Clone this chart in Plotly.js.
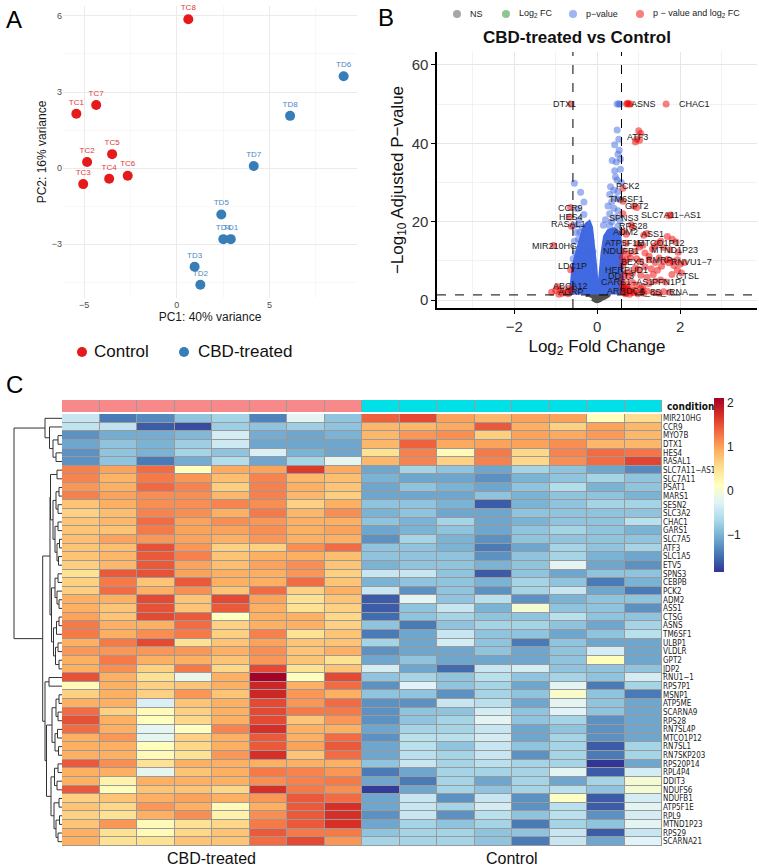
<!DOCTYPE html>
<html><head><meta charset="utf-8">
<script src="https://cdn.plot.ly/plotly-3.0.1.min.js"></script>
<style>html,body{margin:0;padding:0;background:#fff}#chart{width:759px;height:867px}</style>
</head><body><div id="chart"></div>
<script>
// ================= DATA =================
// Panel A: PCA
const pcaControlNames = ['TC1','TC2','TC3','TC4','TC5','TC6','TC7','TC8'];
const pcaControlPC1   = [-5.42,-4.84,-5.05,-3.65,-3.49,-2.65,-4.35,0.62];
const pcaControlPC2   = [2.14,0.24,-0.63,-0.42,0.55,-0.30,2.49,5.87];
const pcaCBDNames     = ['TD1','TD2','TD3','TD4','TD5','TD6','TD7','TD8'];
const pcaCBDPC1       = [2.91,1.27,0.96,2.51,2.40,9.00,4.15,6.11];
const pcaCBDPC2       = [-2.80,-4.60,-3.89,-2.80,-1.83,3.62,0.08,2.06];

// Panel B: volcano
const fcCutoff = 0.585;   // log2(1.5)
const pCutoff  = 1.3;     // -log10(0.05)
const sigBothLFC = [-0.64,0.71,0.76,0.80,0.73,1.66,1.0,1.05,0.95,0.92,1.02,0.62,0.62,0.88,0.95,1.77,1.72,0.62,0.85,0.82,0.62,0.70,1.20,1.12,1.69,1.81,1.90,0.96,1.02,1.10,1.53,1.45,1.38,1.60,1.33,1.75,1.95,0.70,0.65,0.75,0.90,1.15,1.25,0.70,0.80,0.95,1.05,1.25,1.49,1.40,1.60,1.70,1.82,1.93,1.73,2.00,1.85,2.10,0.92,1.00,1.15,1.30,1.45,1.55,1.93,2.03,1.80,0.65,0.75,0.85,1.05,1.20,1.35,1.53,1.65,1.40,1.25,0.85,0.70,0.95,1.10,0.65,0.80,0.90,1.05,1.20,1.60,1.49,1.75,1.35,0.70,0.62,0.75,0.60,0.62,0.66,0.72,0.60,0.60,0.68,0.78,0.88,0.98,1.12,0.66,0.72,0.83,1.08,-0.64,-0.65,-0.62,-1.05,-0.64,-0.96,-1.00,-0.88,-0.76,-0.68,-0.84,-1.10,-0.70,-0.62,-0.92];
const sigBothP   = [50,50,50,50,50.2,50,43.2,42.5,41.0,40.3,40.8,28.5,25.2,24.0,23.6,21.7,21.5,22.0,18.5,19.2,17.5,16.8,17.0,16.5,16.2,15.5,14.8,14.3,13.5,14.0,15.0,14.5,13.8,13.4,13.0,12.8,12.2,14.5,12.5,11.8,12.4,12.0,11.2,10.3,10.8,10.5,9.9,10.3,10.7,9.6,9.8,10.4,9.9,10.3,9.5,9.2,8.8,9.6,8.2,7.8,8.5,8.0,7.6,8.6,7.6,6.9,6.5,6.6,6.0,6.8,6.3,5.8,6.5,5.1,4.6,4.8,4.2,4.5,4.0,3.8,3.5,3.2,2.8,2.4,2.9,2.3,2.1,1.7,2.0,1.9,1.8,2.2,2.5,5.2,8.9,9.7,7.1,3.6,11.0,1.6,1.5,1.9,1.6,1.7,2.6,3.1,2.0,2.2,23.6,21.2,18.8,13.9,7.7,3.4,2.4,2.7,2.1,3.0,1.7,2.0,1.6,2.6,1.5];
const sigPLFC = [0.48,0.52,0.55,0.48,0.52,0.42,0.53,0.50,0.36,0.46,0.42,0.56,0.44,0.48,0.32,0.30,0.40,0.50,0.45,0.35,0.55,0.26,0.40,0.50,0.30,0.45,0.20,0.35,0.55,0.15,0.30,0.50,0.58,0.56,-0.55,-0.40,-0.32,-0.48,-0.32,-0.44,-0.24,-0.20,-0.28,-0.56,-0.50,-0.45,-0.38,-0.30,-0.52,-0.42,-0.35,-0.25,-0.55,-0.58,-0.50,-0.46,-0.36,-0.42,-0.15,-0.10,-0.55,-0.58];
const sigPP   = [50,50,50,43.4,41.0,39.6,38.2,37.2,35.6,35.2,33.0,33.4,31.4,30.6,28.9,26.9,28.0,27.6,26.0,25.1,25.6,24.0,23.4,22.8,22.0,21.1,20.5,20.0,20.2,19.1,19.0,18.8,30.0,36.0,29.8,27.5,25.0,23.3,21.8,20.5,18.4,16.8,16.0,19.0,17.2,15.6,14.2,12.5,12.0,10.2,9.5,10.8,15.0,10.5,8.2,19.2,18.5,17.3,15.2,12.3,6.0,4.0];
// outline of the dense cloud of significant, small-fold-change genes
const denseCloudLFC = [-0.62,-0.60,-0.56,-0.50,-0.44,-0.38,-0.32,-0.25,-0.20,-0.16,-0.12,-0.09,-0.06,-0.03,0.00,0.03,0.08,0.14,0.20,0.28,0.40,0.52,0.56,0.58,0.60];
const denseCloudP   = [1.4,5.0,8.5,11.0,13.6,16.0,17.9,19.2,19.6,18.5,15.3,11.5,8.5,4.5,2.0,3.5,5.1,12.0,16.2,17.5,17.9,17.0,12.0,5.1,1.4];
// outline of the non-significant genes
const nsCloudLFC = [-0.28,0.28,0.12,0.00,-0.12];
const nsCloudP   = [1.3,1.3,0.3,-0.3,0.3];
const volcGenes  = ['DTX1','ASNS','CHAC1','ATF3','PCK2','TM6SF1','GPT2','SLC7A11\u2212AS1','CCR9','HES4','RASAL1','SPNS3','RPS28','ADM2','ASS1','ATP5F1E','MTCO1P12','MIR210HG','NDUFB1','MTND1P23','BEX5','RMRP','RNVU1\u22127','LDC1P','HERPUD1','CTSL','DDIT3','PFN1P1','CARS1\u2212AS1','ABCA12','AGRP','ARRDC4','5_8S_rRNA'];
const volcLabelLFC = [-0.79,1.11,2.34,0.96,0.74,0.70,0.97,1.77,-0.64,-0.62,-0.70,0.64,0.87,0.67,1.33,0.64,1.53,-1.04,0.57,1.86,0.84,1.49,2.28,-0.60,0.71,2.17,0.58,1.74,0.71,-0.64,-0.63,0.68,1.62];
const volcLabelP   = [50,50,50,41.6,29.1,25.9,24.0,21.7,23.6,21.3,19.4,20.9,19.0,17.3,16.8,14.5,14.5,13.9,12.5,12.8,9.8,10.1,9.8,8.7,7.7,6.1,6.0,4.7,4.7,3.7,2.0,2.3,2.1];

// Panel C: heatmap
const heatGenes = ['MIR210HG','CCR9','MYO7B','DTX1','HES4','RASAL1','SLC7A11\u2212AS1','SLC7A11','PSAT1','MARS1','SESN2','SLC3A2','CHAC1','GARS1','SLC7A5','ATF3','SLC1A5','ETV5','SPNS3','CEBPB','PCK2','ADM2','ASS1','CTSG','ASNS','TM6SF1','ULBP1','VLDLR','GPT2','JDP2','RNU1\u22121','RPS7P1','MSNP1','ATP5ME','SCARNA9','RPS28','RN7SL4P','MTCO1P12','RN7SL1','RN7SKP203','RPS20P14','RPL4P4','DDIT3','NDUFS6','NDUFB1','ATP5F1E','RPL9','MTND1P23','RPS29','SCARNA21'];
const heatGroups = ['CBD-treated','CBD-treated','CBD-treated','CBD-treated','CBD-treated','CBD-treated','CBD-treated','CBD-treated','Control','Control','Control','Control','Control','Control','Control','Control'];
const heatCBD = [
[-0.45,-1.4,-1.3,-0.85,-0.7,-1.35,-0.22,-0.85],
[-0.5,-0.5,-1.6,-1.7,-0.75,-0.85,-0.75,-0.85],
[-1.25,-1.05,-1.05,-0.95,-0.35,-1.05,-1.1,-1.0],
[-1.1,-0.85,-1.0,-0.75,-0.4,-1.1,-1.1,-1.1],
[-1.25,-0.85,-1.0,-0.7,-0.85,-0.3,-1.0,-1.1],
[-1.25,-0.85,-1.4,-1.05,-0.6,-1.1,-0.7,-0.2],
[1.2,1.0,1.33,0.13,0.95,1.0,1.65,0.95],
[1.18,0.88,1.25,1.07,0.8,1.18,0.85,0.8],
[1.07,0.92,1.35,1.18,0.67,1.2,0.92,0.75],
[1.2,1.0,1.12,1.12,0.85,1.2,0.85,0.67],
[0.75,0.92,1.12,1.12,1.18,1.12,0.65,0.92],
[0.65,0.8,1.18,1.12,0.92,1.25,0.85,1.12],
[0.75,0.85,1.33,1.0,1.12,1.07,0.92,0.92],
[0.75,0.75,1.25,1.0,1.0,1.12,0.92,1.0],
[0.8,1.0,1.07,1.0,0.92,1.07,0.92,0.92],
[0.75,0.8,1.5,1.07,0.65,0.65,1.12,1.33],
[0.75,0.85,1.45,1.2,0.75,0.92,0.92,0.8],
[0.67,0.85,1.45,1.0,0.8,1.0,1.12,0.75],
[0.5,1.45,1.5,1.0,0.92,0.92,1.07,0.65],
[0.65,1.25,0.75,1.45,0.92,0.92,1.33,0.75],
[0.67,1.33,0.92,1.12,0.75,1.33,0.65,0.92],
[0.92,0.92,1.55,0.75,1.55,1.0,0.5,0.75],
[0.92,0.75,1.5,0.75,1.45,0.92,0.5,0.65],
[1.0,0.75,1.55,1.45,0.13,0.92,0.92,0.6],
[1.25,0.92,0.92,1.33,0.65,0.92,0.92,0.65],
[1.25,0.92,1.12,1.25,0.65,1.2,0.5,0.75],
[0.92,1.25,1.55,0.5,0.75,1.0,0.75,0.75],
[1.07,1.07,1.07,1.07,0.92,1.12,0.75,0.92],
[0.92,1.25,0.92,0.92,0.75,1.07,0.75,0.5],
[0.92,1.12,0.65,1.25,0.6,1.55,0.5,0.75],
[1.5,0.92,0.5,-0.15,0.92,2.1,0.15,1.55],
[0.2,0.92,0.65,0.75,0.92,1.8,0.92,1.33],
[0.65,0.92,0.65,1.07,0.75,1.8,1.07,0.92],
[0.92,0.92,-0.3,0.75,0.92,1.55,1.07,1.33],
[1.33,0.65,0.2,0.65,0.92,1.55,1.25,1.25],
[1.5,0.92,0.15,0.6,0.92,1.55,0.75,1.07],
[1.33,0.92,-0.2,0.13,1.18,1.72,0.92,0.92],
[0.92,1.07,-0.2,0.65,0.92,1.45,0.92,1.33],
[0.92,0.92,0.15,0.6,0.92,1.45,1.0,1.45],
[0.92,0.92,0.2,0.5,1.07,1.72,0.75,1.33],
[1.45,1.12,0.5,0.92,0.92,0.92,0.92,0.92],
[0.92,0.92,-0.2,0.75,0.92,1.25,1.18,1.07],
[0.92,0.3,0.92,0.92,0.92,1.12,1.2,1.25],
[1.45,0.15,0.75,0.75,0.6,1.72,1.25,1.12],
[0.65,0.75,0.92,1.0,0.92,1.07,1.45,1.33],
[0.75,0.6,1.07,0.92,0.2,0.92,1.45,1.72],
[0.65,0.5,0.92,1.12,0.3,1.12,1.45,1.72],
[0.75,1.07,0.2,0.5,0.6,1.25,1.45,1.72],
[0.92,0.5,0.2,0.6,0.75,1.45,1.25,1.25],
[0.92,0.5,0.5,0.75,0.75,1.33,1.55,1.07]];
const heatControl = [
[1.4,1.55,1.0,0.85,1.0,1.0,0.15,0.55],
[0.85,0.85,0.95,1.45,0.92,0.65,1.0,0.85],
[0.85,1.07,1.12,0.67,1.0,0.95,1.05,0.85],
[0.85,1.4,0.95,1.0,1.0,1.12,0.85,0.85],
[0.5,1.2,0.2,1.25,0.6,1.18,1.33,1.27],
[0.85,1.18,0.65,1.2,0.6,1.12,1.33,1.58],
[-1.1,-0.7,-0.85,-1.1,-0.7,-0.85,-1.1,-1.3],
[-1.0,-1.1,-1.1,-1.25,-1.0,-0.85,-0.7,-0.85],
[-1.1,-0.85,-1.0,-1.1,-0.85,-0.6,-1.0,-0.85],
[-1.1,-1.1,-1.1,-0.85,-1.0,-0.85,-0.85,-1.0],
[-0.85,-0.85,-1.0,-1.6,-1.0,-0.85,-0.7,-0.7],
[-1.0,-0.85,-1.1,-1.1,-0.85,-0.85,-0.85,-0.85],
[-0.85,-1.0,-0.7,-1.1,-1.0,-0.85,-0.85,-0.55],
[-1.1,-1.0,-0.85,-1.1,-0.85,-0.7,-0.85,-1.0],
[-1.25,-0.7,-1.0,-1.25,-0.85,-0.85,-0.85,-0.85],
[-0.85,-0.85,-1.0,-1.4,-1.1,-0.7,-0.85,-0.7],
[-0.85,-0.85,-0.85,-1.25,-0.85,-0.7,-1.0,-1.1],
[-1.0,-0.85,-0.85,-1.0,-0.85,-0.22,-1.1,-1.25],
[-0.45,-0.45,-0.85,-1.6,-0.85,-1.1,-0.85,-0.85],
[-1.0,-0.85,-0.85,-1.0,-0.7,-0.85,-1.4,-1.0],
[-0.45,-1.25,-0.85,-1.25,-0.7,-0.45,-1.1,-1.4],
[-1.6,-0.22,-0.85,-0.55,-1.25,-1.0,-0.85,-0.85],
[-1.6,-0.85,-0.45,-1.0,0.0,-0.85,-0.85,-1.25],
[-1.5,-0.85,-0.7,-0.85,-0.85,-0.55,-0.85,-0.85],
[-0.85,-1.4,-0.85,-0.7,-0.7,-0.85,-1.1,-0.7],
[-1.4,-1.1,-0.45,-0.85,-0.85,-1.1,-0.85,-0.55],
[-0.7,-1.1,-0.35,-0.85,-1.4,-0.85,-1.1,-1.1],
[-1.25,-1.1,-1.1,-0.85,-1.1,-0.85,-0.35,-1.1],
[-1.1,-0.85,-1.1,-1.1,-1.1,-0.85,0.15,-1.1],
[-0.35,-1.1,-1.5,-0.45,-0.35,-0.85,-0.85,-0.85],
[-0.85,-0.7,-0.85,-0.55,-0.85,-0.7,-0.85,-0.35],
[-1.25,-0.26,-0.85,-0.7,-1.1,-0.22,-1.4,-0.7],
[-0.85,-0.85,-1.25,-0.7,-0.85,0.05,-0.85,-1.4],
[-1.25,-1.25,-0.45,-0.55,-1.1,-0.22,-0.85,-1.1],
[-1.25,-0.85,-0.85,-0.35,-0.85,-0.26,-0.85,-1.1],
[-1.25,-0.85,-0.7,-0.22,-0.85,-0.7,-1.25,-1.1],
[-1.1,-0.7,-0.7,-0.45,-1.1,-0.85,-1.25,-1.1],
[-1.25,-0.55,-0.55,-0.35,-1.1,-0.7,-1.25,-1.1],
[-1.1,-0.55,-0.85,-0.45,-0.85,-0.7,-1.6,-0.7],
[-1.1,-0.55,-0.7,-0.45,-1.25,-0.7,-1.4,-0.7],
[-0.85,-0.45,-0.7,-0.55,-0.7,-0.7,-1.84,-1.1],
[-1.4,-1.1,-0.7,-0.7,-0.7,-0.22,-1.6,-0.35],
[-1.1,-1.4,-0.7,-1.1,-0.7,-1.1,-0.7,0.0],
[-1.8,-1.1,-0.7,-0.85,-0.7,-0.55,-0.85,0.0],
[-1.1,-0.45,-1.25,-0.45,-1.25,0.1,-1.6,-0.35],
[-1.1,-0.45,-0.7,-0.35,-1.25,-0.55,-1.6,-0.22],
[-1.25,-0.45,-1.25,-0.55,-0.85,-0.55,-1.25,-0.35],
[-1.1,-0.7,-0.85,-0.7,-1.4,-0.7,-0.85,-0.22],
[-0.85,-0.7,-0.7,-0.85,-0.85,-0.45,-1.6,-0.45],
[-0.7,-0.7,-0.7,-0.85,-1.4,-0.45,-1.1,-0.26]];
const heatMin = -1.84, heatMax = 2.11;
const colorbarTicks = [-1,0,1,2];
// row dendrogram: [mergeHeight, left, right]; leaves are row numbers (1-based)
const rowTree = [48,
  [17, 1, [12.5, 2, [9, [4, 3, 4], [6, 5, 6]]]],
  [19.3,
    [12,
      [11.5, [5, 7, 8], [9, [6, [3, 9, 10], [4, 11, 12]], [7, [4, 13, 14], [5, [2.5, 15, 16], [3.5, 17, 18]]]]],
      [10.5, [7, [4, 19, 20], [5, 21, [3, 22, 23]]], [8.5, [5.5, [3, 24, 25], 26], [6.5, [4, 27, 28], [3, 29, 30]]]]],
    [17, [13, 31, 32],
      [15.5,
        [10, [6, [3, 33, 34], [4, 35, 36]], [7, [4.5, 37, 38], [3.5, 39, 40]]],
        [11, [7.5, [4, 41, 42], [5, 43, 44]], [8, [3, 45, 46], [6, [2.5, 47, 48], [4, 49, 50]]]]]]]];

// ================= BUILD =================
const W = 759, H = 867;
const px = v => v / W;
const py = v => 1 - v / H;
const FONT = 'Liberation Sans, Arial, Helvetica, sans-serif';
const NARROW = 'Liberation Sans Narrow, Arial Narrow, DejaVu Sans Condensed, Liberation Sans, sans-serif';
const RED = '#E41A1C', BLUE = '#377EB8';

const traces = [];
// PCA
traces.push({type:'scatter', mode:'markers+text', x:pcaControlPC1, y:pcaControlPC2, text:pcaControlNames,
  textposition:'top center', textfont:{size:8, color:'#e0393b', family:FONT},
  marker:{size:10, color:RED}, xaxis:'x', yaxis:'y', showlegend:false, cliponaxis:false});
traces.push({type:'scatter', mode:'markers+text', x:pcaCBDPC1, y:pcaCBDPC2, text:pcaCBDNames,
  textposition:'top center', textfont:{size:8, color:'#4a88c2', family:FONT},
  marker:{size:10, color:BLUE}, xaxis:'x', yaxis:'y', showlegend:false, cliponaxis:false});

// Volcano
traces.push({type:'scatter', mode:'lines', x:nsCloudLFC, y:nsCloudP, fill:'toself', fillcolor:'#505050',
  line:{color:'#505050', width:4, shape:'spline'}, xaxis:'x2', yaxis:'y2', showlegend:false});
traces.push({type:'scatter', mode:'lines', x:denseCloudLFC, y:denseCloudP, fill:'toself', fillcolor:'#4169E1',
  line:{color:'#4169E1', width:5}, xaxis:'x2', yaxis:'y2', showlegend:false});
traces.push({type:'scatter', mode:'markers', x:sigPLFC, y:sigPP,
  marker:{size:7, color:'#4169E1', opacity:0.5}, xaxis:'x2', yaxis:'y2', showlegend:false});
traces.push({type:'scatter', mode:'markers', x:sigBothLFC, y:sigBothP,
  marker:{size:7, color:'#EE0000', opacity:0.5}, xaxis:'x2', yaxis:'y2', showlegend:false});

// Heatmap
const heatZ = heatCBD.map((r, i) => r.concat(heatControl[i]));
const rdylbu = ['#313695','#4575B4','#74ADD1','#ABD9E9','#E0F3F8','#FFFFBF','#FEE090','#FDAE61','#F46D43','#D73027','#A50026'];
const cscale = rdylbu.map((c, i) => [i / (rdylbu.length - 1), c]);
const colIdx = heatGroups.map((_, i) => i);
const rowIdx = heatGenes.map((_, i) => i);
traces.push({type:'heatmap', z:heatZ, x:colIdx, y:rowIdx, colorscale:cscale, zmin:heatMin, zmax:heatMax,
  xgap:1, ygap:1, xaxis:'x3', yaxis:'y3', hoverinfo:'skip',
  colorbar:{x:px(714), xanchor:'left', xref:'paper', y:py(398), yanchor:'top', yref:'paper',
    len:174/H, lenmode:'fraction', thickness:10, thicknessmode:'pixels', outlinewidth:0,
    tickvals:colorbarTicks, ticktext:colorbarTicks.map(v => v < 0 ? '\u2212' + Math.abs(v) : String(v)),
    ticks:'', tickfont:{size:12, color:'#222', family:FONT}, ypad:0, xpad:0}});
const groupLevels = ['CBD-treated','Control'];
traces.push({type:'heatmap', z:[heatGroups.map(g => groupLevels.indexOf(g))], x:colIdx, y:[0],
  colorscale:[[0,'#F8898B'],[0.5,'#F8898B'],[0.5,'#00E0E6'],[1,'#00E0E6']], zmin:0, zmax:1,
  showscale:false, xgap:1, ygap:0, xaxis:'x4', yaxis:'y4', hoverinfo:'skip'});

// Dendrogram
const dx = [], dy = [];
function walk(node) {
  if (typeof node === 'number') return {h:0, y:node - 1};
  const [h, a, b] = node;
  const A = walk(a), B = walk(b);
  dx.push(A.h, h, h, B.h, null);
  dy.push(A.y, A.y, B.y, B.y, null);
  return {h, y:(A.y + B.y) / 2};
}
walk(rowTree);
traces.push({type:'scatter', mode:'lines', x:dx, y:dy, line:{color:'#333', width:1}, xaxis:'x5', yaxis:'y5',
  showlegend:false, hoverinfo:'skip', cliponaxis:false});

// ================= LAYOUT =================
const hide = {showgrid:false, zeroline:false, showticklabels:false, ticks:'', showline:false};
const heatY = [py(846), py(414)];
const heatX = [px(62), px(662)];
const layout = {
  width:W, height:H, margin:{l:0, r:0, t:0, b:0}, paper_bgcolor:'#fff', plot_bgcolor:'#fff',
  font:{family:FONT, color:'#222'}, showlegend:false, hovermode:false,
  xaxis:{domain:[px(63), px(357)], range:[-6.14, 9.72], anchor:'y', tickvals:[-5,0,5],
    showgrid:true, gridcolor:'#ebebeb', gridwidth:1, zeroline:false, showline:false, ticks:'',
    minor:{dtick:2.5, tick0:0, showgrid:true, gridcolor:'#f4f4f4', gridwidth:0.6},
    tickfont:{size:9, color:'#4d4d4d'}, title:{text:'PC1: 40% variance', font:{size:12, color:'#1a1a1a'}, standoff:3}},
  yaxis:{domain:[py(298), py(6)], range:[-5.12, 6.39], anchor:'x', tickvals:[-3,0,3,6],
    showgrid:true, gridcolor:'#ebebeb', gridwidth:1, zeroline:false, showline:false, ticks:'',
    minor:{dtick:1.5, tick0:0, showgrid:true, gridcolor:'#f4f4f4', gridwidth:0.6},
    tickfont:{size:9, color:'#4d4d4d'}, title:{text:'PC2: 16% variance', font:{size:12, color:'#1a1a1a'}, standoff:2}},
  xaxis2:{domain:[px(437), px(757)], range:[-3.86, 3.85], anchor:'y2', tickvals:[-2,0,2],
    showgrid:true, gridcolor:'#e6e6e6', gridwidth:1, zeroline:false,
    minor:{dtick:1, tick0:0, showgrid:true, gridcolor:'#efefef', gridwidth:0.8},
    showline:true, linecolor:'#000', linewidth:1.6, ticks:'outside', ticklen:4, tickcolor:'#000',
    tickfont:{size:15, color:'#333'}, title:{text:'Log<sub>2</sub> Fold Change', font:{size:17, color:'#111'}, standoff:6}},
  yaxis2:{domain:[py(308), py(52)], range:[-2.04, 63.3], anchor:'x2', tickvals:[0,20,40,60],
    showgrid:true, gridcolor:'#e6e6e6', gridwidth:1, zeroline:false,
    minor:{dtick:10, tick0:0, showgrid:true, gridcolor:'#efefef', gridwidth:0.8},
    showline:true, linecolor:'#000', linewidth:1.6, ticks:'outside', ticklen:4, tickcolor:'#000',
    tickfont:{size:15, color:'#333'}, title:{text:'\u2212Log<sub>10</sub> Adjusted P\u2212value', font:{size:17, color:'#111'}, standoff:4}},
  xaxis3:Object.assign({domain:heatX, range:[-0.5, 15.5], anchor:'y3'}, hide),
  yaxis3:{domain:heatY, range:[49.5, -0.5], anchor:'x3', side:'right', showgrid:false, zeroline:false, ticks:'',
    tickvals:rowIdx, ticktext:heatGenes, tickfont:{size:8, color:'#222', family:NARROW}, showline:false},
  xaxis4:Object.assign({domain:heatX, range:[-0.5, 15.5], anchor:'y4'}, hide),
  yaxis4:Object.assign({domain:[py(412), py(400)], range:[-0.5, 0.5], anchor:'x4'}, hide),
  xaxis5:Object.assign({domain:[px(12), px(62)], range:[50, 0], anchor:'y5'}, hide),
  yaxis5:Object.assign({domain:heatY, range:[49.5, -0.5], anchor:'x5'}, hide),
  shapes:[
    {type:'rect', xref:'x3', yref:'y3', x0:-0.5, x1:15.5, y0:-0.5, y1:49.5, fillcolor:'#9a9a9a', line:{color:'#9a9a9a', width:1}, layer:'below'},
    {type:'rect', xref:'x4', yref:'y4', x0:-0.5, x1:15.5, y0:-0.5, y1:0.5, fillcolor:'#9a9a9a', line:{color:'#9a9a9a', width:1}, layer:'below'},
    {type:'line', xref:'x2 domain', yref:'y2', x0:0, x1:1, y0:pCutoff, y1:pCutoff, line:{color:'#000', width:1, dash:'dash'}},
    {type:'line', xref:'x2', yref:'y2 domain', x0:-fcCutoff, x1:-fcCutoff, y0:0, y1:1, line:{color:'#000', width:1, dash:'dash'}},
    {type:'line', xref:'x2', yref:'y2 domain', x0:fcCutoff, x1:fcCutoff, y0:0, y1:1, line:{color:'#000', width:1, dash:'dash'}}
  ],
  annotations:[]
};
const ann = layout.annotations;
// panel letters
ann.push({text:'A', x:px(4), y:py(20), xref:'paper', yref:'paper', xanchor:'left', yanchor:'middle', showarrow:false, font:{size:24, color:'#000'}});
ann.push({text:'B', x:px(376), y:py(18), xref:'paper', yref:'paper', xanchor:'left', yanchor:'middle', showarrow:false, font:{size:24, color:'#000'}});
ann.push({text:'C', x:px(4), y:py(384), xref:'paper', yref:'paper', xanchor:'left', yanchor:'middle', showarrow:false, font:{size:24, color:'#000'}});
// PCA legend
function dot(cx, cy, r, color, opacity) {
  layout.shapes.push({type:'circle', xref:'paper', yref:'paper', x0:px(cx - r), x1:px(cx + r), y0:py(cy + r), y1:py(cy - r),
    fillcolor:color, line:{width:0}, opacity:opacity});
}
dot(82, 352, 5, RED, 1); dot(184, 352, 5, BLUE, 1);
ann.push({text:'Control', x:px(92), y:py(352), xref:'paper', yref:'paper', xanchor:'left', yanchor:'middle', showarrow:false, font:{size:17, color:'#111'}});
ann.push({text:'CBD-treated', x:px(196), y:py(352), xref:'paper', yref:'paper', xanchor:'left', yanchor:'middle', showarrow:false, font:{size:17, color:'#111'}});
// Volcano legend + title
const vleg = [['NS','#4D4D4D',457],['Log<sub>2</sub> FC','#228B22',506],['p\u2212value','#4169E1',573],['p \u2212 value and log<sub>2</sub> FC','#EE0000',640]];
vleg.forEach(([t, c, x]) => {
  dot(x, 14, 4, c, 0.5);
  ann.push({text:t, x:px(x + 11), y:py(14), xref:'paper', yref:'paper', xanchor:'left', yanchor:'middle', showarrow:false, font:{size:9, color:'#222'}});
});
ann.push({text:'<b>CBD-treated vs Control</b>', x:px(577), y:py(37), xref:'paper', yref:'paper', xanchor:'center', yanchor:'middle', showarrow:false, font:{size:17, color:'#111'}});
// Volcano gene labels
volcGenes.forEach((g, i) => ann.push({text:g, x:volcLabelLFC[i], y:volcLabelP[i], xref:'x2', yref:'y2',
  showarrow:false, xanchor:'center', yanchor:'middle', font:{size:9, color:'#1a1a1a'}}));
// Heatmap texts
ann.push({text:'<b>condition</b>', x:px(665), y:py(406), xref:'paper', yref:'paper', xanchor:'left', yanchor:'middle', showarrow:false, font:{size:10, color:'#111', family:NARROW}});
ann.push({text:'CBD-treated', x:px(212), y:py(858), xref:'paper', yref:'paper', xanchor:'center', yanchor:'middle', showarrow:false, font:{size:16, color:'#111'}});
ann.push({text:'Control', x:px(512), y:py(858), xref:'paper', yref:'paper', xanchor:'center', yanchor:'middle', showarrow:false, font:{size:16, color:'#111'}});

Plotly.newPlot('chart', traces, layout, {staticPlot:true, displayModeBar:false});
</script>
</body></html>
